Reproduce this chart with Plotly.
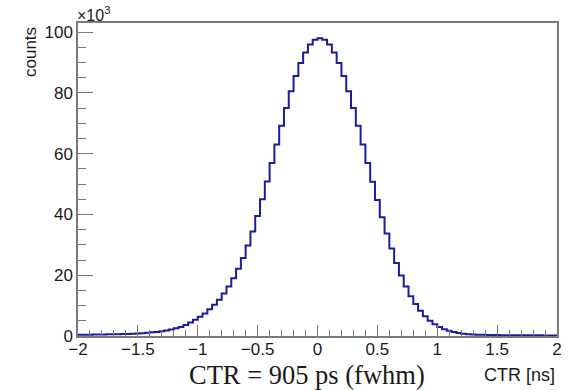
import numpy as np
import plotly.graph_objects as go

# Coincidence time resolution histogram: 100 bins from -2 ns to 2 ns
bin_lo, bin_hi = -2.0, 2.0

# bin contents in thousands of counts (left to right)
counts_k = [
    0.40, 0.42, 0.45, 0.47, 0.49, 0.52, 0.54, 0.57, 0.60, 0.64,
    0.69, 0.77, 0.84, 0.94, 1.05, 1.20, 1.35, 1.56, 1.82, 2.14,
    2.53, 3.00, 3.66, 4.44, 5.31, 6.30, 7.44, 8.78, 10.25, 11.96,
    13.98, 16.30, 18.97, 22.09, 25.69, 29.77, 34.40, 39.49, 44.99, 50.82,
    56.95, 63.05, 69.16, 75.04, 80.54, 85.52, 89.81, 93.31, 95.89, 97.47,
    98.00, 97.47, 95.89, 93.31, 89.81, 85.52, 80.54, 75.04, 69.16, 63.05,
    56.90, 50.72, 44.74, 39.04, 33.70, 28.77, 24.00, 19.90, 16.30, 13.10,
    10.50, 8.30, 6.50, 5.00, 3.85, 2.95, 2.25, 1.70, 1.28, 0.98,
    0.76, 0.60, 0.50, 0.43, 0.38, 0.34, 0.31, 0.29, 0.27, 0.26,
    0.25, 0.24, 0.23, 0.22, 0.22, 0.21, 0.21, 0.20, 0.20, 0.20,
]

x_major = [-2, -1.5, -1, -0.5, 0, 0.5, 1, 1.5, 2]
y_major = [0, 20, 40, 60, 80, 100]

x_title = "CTR [ns]"
y_title = "counts"
y_scale = "×10<sup>3</sup>"
caption = "CTR = 905 ps (fwhm)"

edges = np.linspace(bin_lo, bin_hi, len(counts_k) + 1)
step_y = counts_k + [counts_k[-1]]

SANS = "Liberation Sans, Arial, Helvetica, sans-serif"
SERIF = "Liberation Serif, Times New Roman, serif"
FRAME = "#7a7a7a"
TEXT = "#1a1a1a"

# plot-area geometry in pixels (used to place the free-standing texts)
W, H = 575, 390
L, R, T, B = 78, 18, 23, 54
PW, PH = W - L - R, H - T - B


def px_to_paper(px, py):
    return (px - L) / PW, (H - B - py) / PH


fig = go.Figure()
fig.add_trace(go.Scatter(
    x=edges, y=step_y, mode="lines", line_shape="hv",
    line=dict(color="#1c1ca0", width=2), showlegend=False, hoverinfo="skip",
))

fig.update_layout(
    width=W, height=H,
    margin=dict(l=L, r=R, t=T, b=B),
    paper_bgcolor="white", plot_bgcolor="white",
    font=dict(family=SANS, size=17, color=TEXT),
    xaxis=dict(
        range=[bin_lo, bin_hi], tickvals=x_major, ticks="inside", ticklen=11,
        tickwidth=1.2, tickcolor=FRAME, showline=True, linecolor=FRAME,
        linewidth=1.5, mirror=True, showgrid=False, zeroline=False,
        ticklabelstandoff=-3,
        minor=dict(dtick=0.1, ticks="inside", ticklen=6, tickcolor=FRAME, tickwidth=1.2, showgrid=False),
        tickfont=dict(family=SANS, size=17, color=TEXT),
    ),
    yaxis=dict(
        range=[0, 103], tickvals=y_major, ticks="inside", ticklen=15,
        tickwidth=1.2, tickcolor=FRAME, showline=True, linecolor=FRAME,
        linewidth=1.5, mirror=True, showgrid=False, zeroline=False,
        minor=dict(dtick=5, ticks="inside", ticklen=8, tickcolor=FRAME, tickwidth=1.2, showgrid=False),
        tickfont=dict(family=SANS, size=17, color=TEXT),
    ),
)

# axis titles placed ROOT-style at the far ends of the axes
fig.add_annotation(x=1, y=0, xref="paper", yref="paper", xanchor="right", yanchor="top",
                   yshift=-27, text=x_title, showarrow=False,
                   font=dict(family=SANS, size=18, color=TEXT))

cx, cy = px_to_paper(31, 52)
fig.add_annotation(x=cx, y=cy, xref="paper", yref="paper", xanchor="center", yanchor="middle",
                   text=y_title, textangle=-90, showarrow=False,
                   font=dict(family=SANS, size=17, color=TEXT))

fig.add_annotation(x=0, y=1, xref="paper", yref="paper", xanchor="left", yanchor="bottom",
                   xshift=-3, yshift=-3, text=y_scale, showarrow=False,
                   font=dict(family=SANS, size=16, color=TEXT))

capx, capy = px_to_paper(307, 375)
fig.add_annotation(x=capx, y=capy, xref="paper", yref="paper", xanchor="center", yanchor="middle",
                   text=caption, showarrow=False,
                   font=dict(family=SERIF, size=26.5, color=TEXT))

fig.write_html("out.html")
